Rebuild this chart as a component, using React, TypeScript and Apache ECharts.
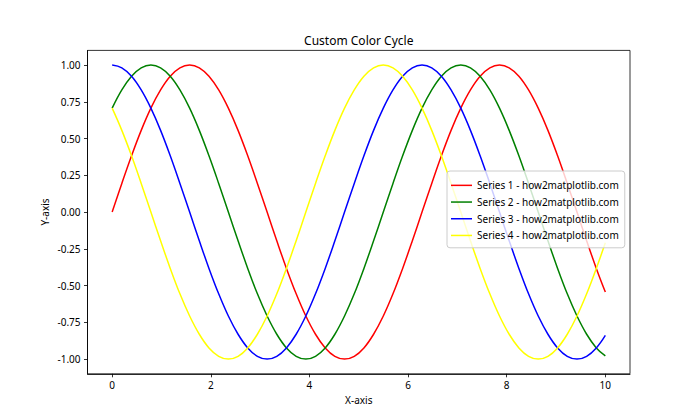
import React, { useEffect, useRef } from "react";
import * as echarts from "echarts";

const xValues = [0, 0.196, 0.393, 0.589, 0.785, 0.982, 1.178, 1.374, 1.571, 1.767, 1.963, 2.16, 2.356, 2.553, 2.749, 2.945, 3.142, 3.338, 3.534, 3.731, 3.927, 4.123, 4.32, 4.516, 4.712, 4.909, 5.105, 5.301, 5.498, 5.694, 5.89, 6.087, 6.283, 6.48, 6.676, 6.872, 7.069, 7.265, 7.461, 7.658, 7.854, 8.05, 8.247, 8.443, 8.639, 8.836, 9.032, 9.228, 9.425, 9.621, 9.817, 10];

const series1 = [0, 0.195, 0.383, 0.556, 0.707, 0.831, 0.924, 0.981, 1, 0.981, 0.924, 0.831, 0.707, 0.556, 0.383, 0.195, 0, -0.195, -0.383, -0.556, -0.707, -0.831, -0.924, -0.981, -1, -0.981, -0.924, -0.831, -0.707, -0.556, -0.383, -0.195, 0, 0.195, 0.383, 0.556, 0.707, 0.831, 0.924, 0.981, 1, 0.981, 0.924, 0.831, 0.707, 0.556, 0.383, 0.195, 0, -0.195, -0.383, -0.544];
const series2 = [0.707, 0.831, 0.924, 0.981, 1, 0.981, 0.924, 0.831, 0.707, 0.556, 0.383, 0.195, 0, -0.195, -0.383, -0.556, -0.707, -0.831, -0.924, -0.981, -1, -0.981, -0.924, -0.831, -0.707, -0.556, -0.383, -0.195, 0, 0.195, 0.383, 0.556, 0.707, 0.831, 0.924, 0.981, 1, 0.981, 0.924, 0.831, 0.707, 0.556, 0.383, 0.195, 0, -0.195, -0.383, -0.556, -0.707, -0.831, -0.924, -0.978];
const series3 = [1, 0.981, 0.924, 0.831, 0.707, 0.556, 0.383, 0.195, 0, -0.195, -0.383, -0.556, -0.707, -0.831, -0.924, -0.981, -1, -0.981, -0.924, -0.831, -0.707, -0.556, -0.383, -0.195, 0, 0.195, 0.383, 0.556, 0.707, 0.831, 0.924, 0.981, 1, 0.981, 0.924, 0.831, 0.707, 0.556, 0.383, 0.195, 0, -0.195, -0.383, -0.556, -0.707, -0.831, -0.924, -0.981, -1, -0.981, -0.924, -0.839];
const series4 = [0.707, 0.556, 0.383, 0.195, 0, -0.195, -0.383, -0.556, -0.707, -0.831, -0.924, -0.981, -1, -0.981, -0.924, -0.831, -0.707, -0.556, -0.383, -0.195, 0, 0.195, 0.383, 0.556, 0.707, 0.831, 0.924, 0.981, 1, 0.981, 0.924, 0.831, 0.707, 0.556, 0.383, 0.195, 0, -0.195, -0.383, -0.556, -0.707, -0.831, -0.924, -0.981, -1, -0.981, -0.924, -0.831, -0.707, -0.556, -0.383, -0.209];

const seriesNames = [
  "Series 1 - how2matplotlib.com",
  "Series 2 - how2matplotlib.com",
  "Series 3 - how2matplotlib.com",
  "Series 4 - how2matplotlib.com",
];
const seriesColors = ["#ff0000", "#008000", "#0000ff", "#ffff00"];
const xTicks = [0, 2, 4, 6, 8, 10];
const yTicks = [-1, -0.75, -0.5, -0.25, 0, 0.25, 0.5, 0.75, 1];

const FONT = "Noto Sans";

export default function App() {
  const ref = useRef<HTMLDivElement>(null);
  useEffect(() => {
    if (!ref.current) return;
    const chart = echarts.init(ref.current, undefined, { renderer: "svg" });
    const allSeries = [series1, series2, series3, series4];
    chart.setOption({
      animation: false,
      backgroundColor: "#ffffff",
      textStyle: { fontFamily: FONT },
      grid: {
        left: 87.5,
        right: 70,
        top: 50.4,
        bottom: 46.2,
        show: true,
        borderColor: "#000",
        borderWidth: 0.8,
        backgroundColor: "transparent",
      },
      xAxis: {
        type: "value",
        min: -0.5,
        max: 10.5,
        splitLine: { show: false },
        axisLine: { onZero: false, lineStyle: { color: "#000", width: 0.8 } },
        axisTick: { show: true, length: 3.5, customValues: xTicks, lineStyle: { color: "#000", width: 0.8 } },
        axisLabel: {
          customValues: xTicks,
          color: "#000",
          fontSize: 10,
          fontFamily: FONT,
          margin: 6,
          formatter: (v: number) => String(v),
        },
      },
      yAxis: {
        type: "value",
        min: -1.1,
        max: 1.1,
        splitLine: { show: false },
        axisLine: { show: true, onZero: false, lineStyle: { color: "#000", width: 0.8 } },
        axisTick: { show: true, length: 3.5, customValues: yTicks, lineStyle: { color: "#000", width: 0.8 } },
        axisLabel: {
          customValues: yTicks,
          color: "#000",
          fontSize: 10,
          fontFamily: FONT,
          margin: 7,
          formatter: (v: number) => v.toFixed(2),
        },
      },
      legend: {
        orient: "vertical",
        left: 447,
        top: 171,
        data: seriesNames,
        icon: "rect",
        itemWidth: 21,
        itemHeight: 1.5,
        itemGap: 0,
        padding: [6, 6, 4, 4],
        backgroundColor: "rgba(255,255,255,0.8)",
        borderColor: "#cccccc",
        borderWidth: 1,
        borderRadius: 3,
        textStyle: { color: "#000", fontSize: 10, fontFamily: FONT, lineHeight: 16.7 },
      },
      graphic: [
        {
          type: "text",
          x: 358.75,
          y: 40,
          style: { text: "Custom Color Cycle", fontSize: 12, fontFamily: FONT, fill: "#000", textAlign: "center", textVerticalAlign: "middle" },
        },
        {
          type: "text",
          x: 358.75,
          y: 400,
          style: { text: "X-axis", fontSize: 10, fontFamily: FONT, fill: "#000", textAlign: "center", textVerticalAlign: "middle" },
        },
        {
          type: "text",
          x: 45,
          y: 212,
          rotation: Math.PI / 2,
          style: { text: "Y-axis", fontSize: 10, fontFamily: FONT, fill: "#000", textAlign: "center", textVerticalAlign: "middle" },
        },
      ],
      series: allSeries.map((vals, i) => ({
        name: seriesNames[i],
        type: "line",
        data: xValues.map((x, j) => [x, vals[j]]),
        smooth: 0.4,
        showSymbol: false,
        symbol: "none",
        color: seriesColors[i],
        lineStyle: { width: 1.5, color: seriesColors[i] },
      })),
    });
    return () => chart.dispose();
  }, []);
  return <div ref={ref} style={{ position: "fixed", left: 0, top: 0, width: 700, height: 420 }} />;
}
